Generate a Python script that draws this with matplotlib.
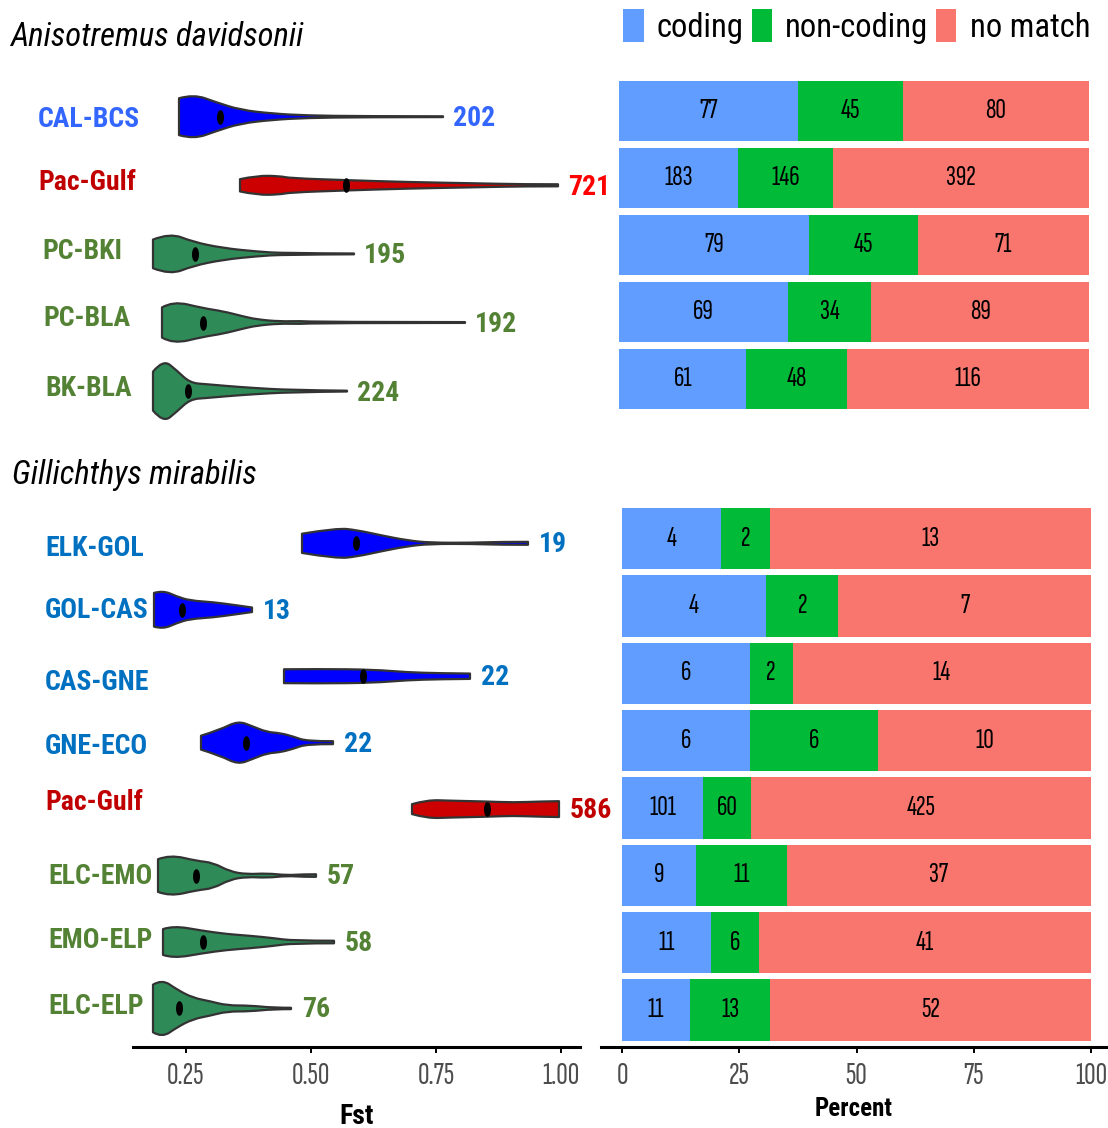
import numpy as np
import matplotlib
matplotlib.use('Agg')
import matplotlib.pyplot as plt
from matplotlib import font_manager
from matplotlib.path import Path
from matplotlib.patches import Patch, PathPatch


def pick(cands, weight=400, style='normal'):
    for c in cands:
        for f in font_manager.fontManager.ttflist:
            if f.name == c and f.style == style and abs(f.weight - weight) <= 100:
                return c
    return 'Liberation Sans'


narrow = ['Liberation Sans Narrow', 'Arial Narrow', 'Roboto Condensed', 'IBM Plex Sans Condensed',
          'PT Sans Narrow', 'Barlow Condensed']
FONT_BOLD = pick(narrow, 700)
FONT_REG = pick(narrow, 400)
FONT_IT = pick(narrow, 400, 'italic')
FONT_NUM = pick(['Sofia Sans Extra Condensed', 'Barlow Condensed'] + narrow, 400)
plt.rcParams['font.family'] = [FONT_REG, 'DejaVu Sans']

# ---------------- Anisotremus davidsonii ----------------
pairs_a = ['CAL-BCS', 'Pac-Gulf', 'PC-BKI', 'PC-BLA', 'BK-BLA']
n_a = [202, 721, 195, 192, 224]
coding_a = [77, 183, 79, 69, 61]
noncoding_a = [45, 146, 45, 34, 48]
nomatch_a = [80, 392, 71, 89, 116]
median_a = [0.318, 0.570, 0.268, 0.284, 0.254]

# violin outlines: Fst knots and half widths (density)
fst_cal_bcs = [0.236, 0.265, 0.311, 0.358, 0.424, 0.492, 0.60, 0.764]
dens_cal_bcs = [18, 22, 14, 6.7, 3, 1.2, 0.5, 0.4]
fst_pac_gulf_a = [0.358, 0.392, 0.438, 0.458, 0.572, 0.692, 0.824, 0.924, 0.994]
dens_pac_gulf_a = [6, 9.5, 9, 7, 5, 3.2, 2, 1, 1]
fst_pc_bki = [0.184, 0.218, 0.264, 0.324, 0.392, 0.444, 0.586]
dens_pc_bki = [14, 20.5, 11.7, 5.7, 2.3, 0.7, 0.4]
fst_pc_bla = [0.202, 0.224, 0.284, 0.324, 0.364, 0.392, 0.438, 0.478, 0.518, 0.808]
dens_pc_bla = [14.7, 21, 14, 11, 6, 3, 1, 1.5, 0.5, 0.4]
fst_bk_bla = [0.184, 0.204, 0.232, 0.258, 0.292, 0.332, 0.378, 0.458, 0.572]
dens_bk_bla = [19, 31, 20, 8, 6.7, 5, 3.3, 1, 0.4]

# ---------------- Gillichthys mirabilis ----------------
pairs_g = ['ELK-GOL', 'GOL-CAS', 'CAS-GNE', 'GNE-ECO', 'Pac-Gulf', 'ELC-EMO', 'EMO-ELP', 'ELC-ELP']
n_g = [19, 13, 22, 22, 586, 57, 58, 76]
coding_g = [4, 4, 6, 6, 101, 9, 11, 11]
noncoding_g = [2, 2, 2, 6, 60, 11, 6, 13]
nomatch_g = [13, 7, 14, 10, 425, 37, 41, 52]
median_g = [0.590, 0.242, 0.604, 0.370, 0.852, 0.270, 0.284, 0.236]

fst_elk_gol = [0.482, 0.552, 0.592, 0.638, 0.692, 0.738, 0.824, 0.878, 0.934]
dens_elk_gol = [9.7, 15.5, 13.3, 8.3, 3, 0.6, 0.6, 1.5, 1.5]
fst_gol_cas = [0.186, 0.204, 0.232, 0.258, 0.304, 0.344, 0.382]
dens_gol_cas = [17, 19.5, 13.3, 9.3, 7.7, 5, 2.3]
fst_cas_gne = [0.446, 0.518, 0.624, 0.692, 0.758, 0.818]
dens_cas_gne = [7, 7.3, 6.7, 4, 3, 2.7]
fst_gne_eco = [0.280, 0.318, 0.354, 0.384, 0.412, 0.438, 0.464, 0.492, 0.544]
dens_gne_eco = [7, 13, 22, 16.3, 10.7, 9.7, 6.3, 1.3, 1.5]
fst_pac_gulf_g = [0.702, 0.732, 0.778, 0.852, 0.904, 0.958, 0.996]
dens_pac_gulf_g = [5, 9.3, 8.5, 7.7, 6.7, 7.7, 8]
fst_elc_emo = [0.194, 0.218, 0.272, 0.304, 0.338, 0.372, 0.412, 0.452, 0.484, 0.51]
dens_elc_emo = [16.5, 21, 14.7, 13, 4, 1.3, 2.3, 0.3, 1.3, 1.3]
fst_emo_elp = [0.204, 0.224, 0.284, 0.332, 0.378, 0.424, 0.464, 0.546]
dens_emo_elp = [13, 16.5, 11.3, 8, 6.3, 4, 1.3, 1.3]
fst_elc_elp = [0.184, 0.202, 0.232, 0.264, 0.298, 0.332, 0.378, 0.424, 0.46]
dens_elc_elp = [24, 29.5, 19, 10.7, 7.3, 3, 3, 0.7, 0.7]

categories = ['coding', 'non-coding', 'no match']
cat_colors = ['#619CFF', '#00BA38', '#F8766D']

BLUE, RED, GREEN = '#0000FF', '#CC0000', '#2E8B57'

W, H = 1108, 1128
fig = plt.figure(figsize=(W / 100, H / 100), dpi=100)


def px_axes(x0, y0, x1, y1):
    ax = fig.add_axes([x0 / W, 1 - y1 / H, (x1 - x0) / W, (y1 - y0) / H])
    ax.patch.set_visible(False)
    return ax


# squashed ellipse marker for the medians
t = np.linspace(0, 2 * np.pi, 40)
dot = Path(np.column_stack([0.42 * np.cos(t), np.sin(t)]), closed=True)


def smooth_edge(xs, ys):
    # quadratic bezier through midpoints, knots act as control points
    verts, codes = [], []
    for i in range(1, len(xs) - 1):
        mx, my = (xs[i] + xs[i + 1]) / 2, (ys[i] + ys[i + 1]) / 2
        if i == len(xs) - 2:
            mx, my = xs[-1], ys[-1]
        verts += [(xs[i], ys[i]), (mx, my)]
        codes += [Path.CURVE3, Path.CURVE3]
    if len(xs) == 2:
        verts, codes = [(xs[1], ys[1])], [Path.LINETO]
    return verts, codes


def violin(ax, row, fst, dens, color, med):
    fst = np.asarray(fst, dtype=float)
    w = np.asarray(dens) / 67.0
    up_v, up_c = smooth_edge(fst, row - w)
    lo_v, lo_c = smooth_edge(fst[::-1], (row + w)[::-1])
    verts = [(fst[0], row - w[0])] + up_v + [(fst[-1], row + w[-1])] + lo_v + [(0, 0)]
    codes = [Path.MOVETO] + up_c + [Path.LINETO] + lo_c + [Path.CLOSEPOLY]
    ax.add_patch(PathPatch(Path(verts, codes), facecolor=color, edgecolor='#333333',
                           lw=1.6, joinstyle='round'))
    ax.plot([med], [row], marker=dot, ms=9.5, color='black', mec='black', ls='none')


def stacked(ax, counts):
    counts = np.array(counts, dtype=float)
    pct = counts / counts.sum(axis=0) * 100
    rows = np.arange(counts.shape[1])
    left = np.zeros(counts.shape[1])
    for k in range(3):
        ax.barh(rows, pct[k], left=left, height=0.91, color=cat_colors[k], lw=0)
        for r in rows:
            ax.text(left[r] + pct[k][r] / 2, r, '%d' % counts[k][r], ha='center', va='center',
                    fontsize=21, color='black', family=FONT_NUM)
        left += pct[k]
    ax.set_xlim(0, 100)


def clean(ax):
    for s in ax.spines.values():
        s.set_visible(False)
    ax.set_yticks([])


def row_label(x, y, s, c):
    fig.text(x / W, 1 - y / H, s, ha='left', va='center', fontsize=20,
             fontweight='bold', color=c, family=FONT_BOLD)


# ---- top left: violins ----
axA = px_axes(133, 82.4, 580, 425.4)
axA.set_xlim(0.144, 1.038)
axA.set_ylim(4.5, -0.5)
clean(axA)
axA.set_xticks([])
vio_a = [(fst_cal_bcs, dens_cal_bcs, BLUE), (fst_pac_gulf_a, dens_pac_gulf_a, RED),
         (fst_pc_bki, dens_pc_bki, GREEN), (fst_pc_bla, dens_pc_bla, GREEN),
         (fst_bk_bla, dens_bk_bla, GREEN)]
lab_col_a = ['#3366FF', '#C00000', '#548235', '#548235', '#548235']
num_col_a = ['#3366FF', '#FF0000', '#548235', '#548235', '#548235']
for i, (f, d, c) in enumerate(vio_a):
    violin(axA, i, f, d, c, median_a[i])
    axA.annotate(str(n_a[i]), (max(f), i), xytext=(7, -1.5), textcoords='offset points',
                 ha='left', va='center', fontsize=20, fontweight='bold', color=num_col_a[i],
                 family=FONT_BOLD)

lab_pos_a = [(38, 119), (38, 182), (42, 252), (43, 318), (45, 389)]
for i, (x, y) in enumerate(lab_pos_a):
    row_label(x, y, pairs_a[i], lab_col_a[i])

# ---- top right: stacked percent bars ----
axB = px_axes(619, 77.5, 1089, 412.5)
stacked(axB, [coding_a, noncoding_a, nomatch_a])
axB.set_ylim(4.5, -0.5)
clean(axB)
axB.set_xticks([])

# ---- bottom left: violins ----
axC = px_axes(133, 510.1, 580, 1047)
axC.set_xlim(0.144, 1.038)
axC.set_ylim(7.58, -0.5)
clean(axC)
axC.spines['bottom'].set_visible(True)
axC.spines['bottom'].set_linewidth(2.2)
axC.set_xticks([0.25, 0.5, 0.75, 1.0])
axC.set_xticklabels(['0.25', '0.50', '0.75', '1.00'])
axC.set_xlabel('Fst', fontsize=20, fontweight='bold', labelpad=9, family=FONT_BOLD)
vio_g = [(fst_elk_gol, dens_elk_gol, BLUE), (fst_gol_cas, dens_gol_cas, BLUE),
         (fst_cas_gne, dens_cas_gne, BLUE), (fst_gne_eco, dens_gne_eco, BLUE),
         (fst_pac_gulf_g, dens_pac_gulf_g, RED), (fst_elc_emo, dens_elc_emo, GREEN),
         (fst_emo_elp, dens_emo_elp, GREEN), (fst_elc_elp, dens_elc_elp, GREEN)]
lab_col_g = ['#0070C0'] * 4 + ['#C00000'] + ['#548235'] * 3
for i, (f, d, c) in enumerate(vio_g):
    violin(axC, i, f, d, c, median_g[i])
    axC.annotate(str(n_g[i]), (max(f), i), xytext=(8, -1), textcoords='offset points',
                 ha='left', va='center', fontsize=20, fontweight='bold', color=lab_col_g[i],
                 family=FONT_BOLD)

lab_pos_g = [(45, 549), (45, 611), (45, 682), (45, 747), (45, 803), (48, 877), (48, 941), (48, 1006)]
for i, (x, y) in enumerate(lab_pos_g):
    row_label(x, y, pairs_g[i], lab_col_g[i])

# ---- bottom right: stacked percent bars ----
axD = px_axes(601, 505, 1106, 1047)
stacked(axD, [coding_g, noncoding_g, nomatch_g])
axD.set_xlim(-4.48, 103.2)
axD.set_ylim(7.55, -0.5)
clean(axD)
axD.spines['bottom'].set_visible(True)
axD.spines['bottom'].set_linewidth(2.2)
axD.set_xticks([0, 25, 50, 75, 100])
axD.set_xlabel('Percent', fontsize=18, fontweight='bold', labelpad=5, family=FONT_BOLD)

for ax in (axC, axD):
    ax.tick_params(axis='x', length=4, width=1.4, color='black', labelcolor='#4D4D4D',
                   labelsize=23, pad=7)
    for lab in ax.get_xticklabels():
        lab.set_family(FONT_NUM)

# ---- titles and legend ----
fig.text(10 / W, 1 - 37 / H, 'Anisotremus davidsonii', fontsize=23.5, style='italic',
         ha='left', va='center', family=FONT_IT)
fig.text(12 / W, 1 - 475 / H, 'Gillichthys mirabilis', fontsize=23.5, style='italic',
         ha='left', va='center', family=FONT_IT)

handles = [Patch(facecolor=c, edgecolor='none') for c in cat_colors]
fig.legend(handles, categories, loc='upper right', bbox_to_anchor=(1090 / W, 1 - 9 / H),
           ncol=3, frameon=False, fontsize=23.5, handlelength=0.62, handleheight=1.2,
           handletextpad=0.4, columnspacing=0.25, borderaxespad=0, borderpad=0)

fig.savefig('out.png', dpi=100)
